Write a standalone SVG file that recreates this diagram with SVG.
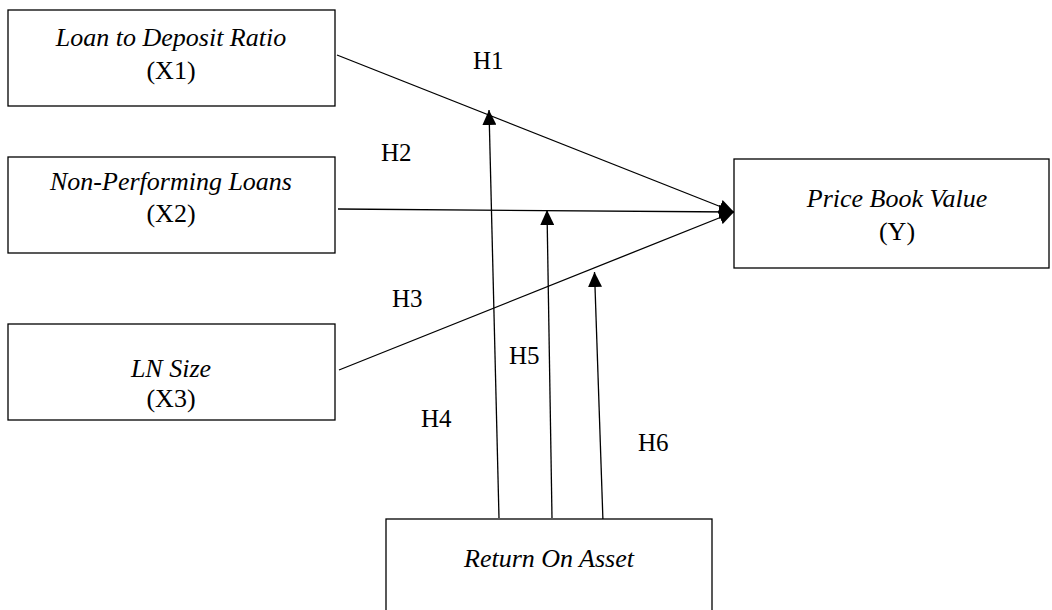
<svg xmlns="http://www.w3.org/2000/svg" width="1052" height="610" viewBox="0 0 1052 610">
<style>
.box{fill:#fff;stroke:#000;stroke-width:1.3}
.t{font-family:"Liberation Serif","Times New Roman",serif;font-size:26px;fill:#000;text-anchor:middle}
.i{font-style:italic}
.lab{font-family:"Liberation Serif","Times New Roman",serif;font-size:25px;fill:#000}
.c{stroke:#000;stroke-width:1.3;fill:none;marker-end:url(#ah)}
</style>
<defs>
<marker id="ah" viewBox="0 0 15 14" refX="15" refY="7" markerWidth="15" markerHeight="14" markerUnits="userSpaceOnUse" orient="auto">
<path d="M0,0 L15,7 L0,14 z" fill="#000"/>
</marker>
</defs>
<rect width="1052" height="610" fill="#fff"/>
<g id="connectors">
<line class="c" x1="337" y1="55" x2="734" y2="212"/>
<line class="c" x1="338" y1="209" x2="734" y2="212"/>
<line class="c" x1="339" y1="370" x2="734" y2="212"/>
<line class="c" x1="499" y1="518" x2="489" y2="110"/>
<line class="c" x1="552" y1="518" x2="547" y2="210"/>
<line class="c" x1="603" y1="522" x2="594.5" y2="272"/>
</g>
<g id="labels">
<text class="lab" x="473" y="69">H1</text>
<text class="lab" x="381" y="161">H2</text>
<text class="lab" x="392" y="307">H3</text>
<text class="lab" x="421" y="427">H4</text>
<text class="lab" x="509" y="364">H5</text>
<text class="lab" x="638" y="451">H6</text>
</g>
<g id="x1">
<rect class="box" x="8" y="10" width="327" height="96"/>
<text class="t i" x="171" y="46">Loan to Deposit Ratio</text>
<text class="t" x="171" y="79">(X1)</text>
</g>
<g id="x2">
<rect class="box" x="8" y="157" width="327" height="96"/>
<text class="t i" x="171" y="190">Non-Performing Loans</text>
<text class="t" x="171" y="222">(X2)</text>
</g>
<g id="x3">
<rect class="box" x="8" y="324" width="327" height="96"/>
<text class="t i" x="171" y="377">LN Size</text>
<text class="t" x="171" y="407">(X3)</text>
</g>
<g id="y">
<rect class="box" x="734" y="159" width="315" height="109"/>
<text class="t i" x="897" y="207">Price Book Value</text>
<text class="t" x="897" y="240">(Y)</text>
</g>
<g id="roa">
<rect class="box" x="386" y="519" width="326" height="120"/>
<text class="t i" x="549" y="567">Return On Asset</text>
</g>
</svg>
